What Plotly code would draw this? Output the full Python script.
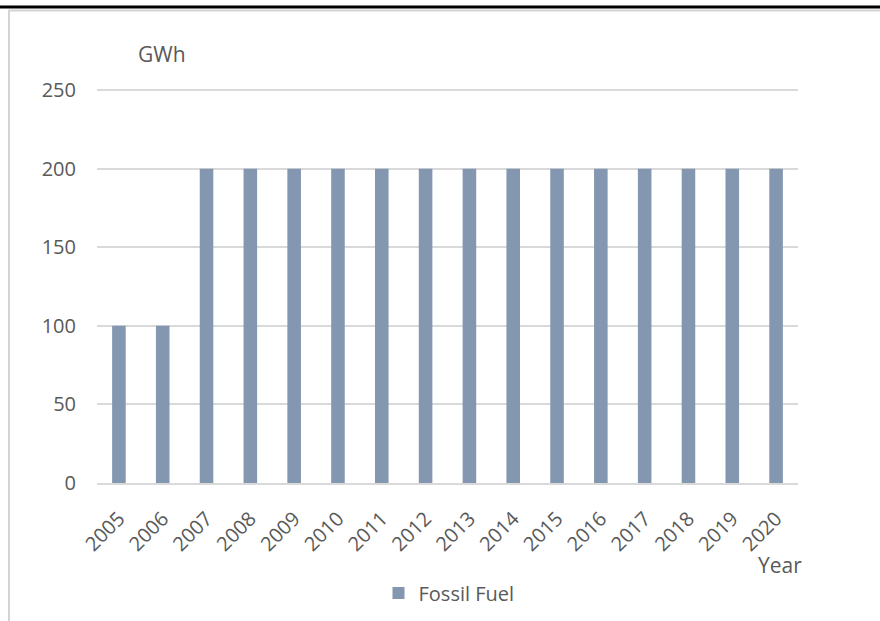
import plotly.graph_objects as go

# Annual electricity from fossil fuel (GWh)
years = ["2005", "2006", "2007", "2008", "2009", "2010", "2011", "2012",
         "2013", "2014", "2015", "2016", "2017", "2018", "2019", "2020"]
fossil_fuel = [100, 100, 200, 200, 200, 200, 200, 200,
               200, 200, 200, 200, 200, 200, 200, 200]
y_ticks = [0, 50, 100, 150, 200, 250]

W, H = 880, 621
L, R, T, B = 97, 82, 87, 138
pw, ph = W - L - R, H - T - B


def px(x):
    return (x - L) / pw


def py(y):
    return 1 - (y - T) / ph


FONT = "Open Sans"
TEXT = "#595959"
GRID = "#d9d9d9"

fig = go.Figure()
fig.add_trace(go.Bar(
    x=years, y=fossil_fuel, name="Fossil Fuel",
    marker=dict(color="#8497b0", line=dict(width=0)),
))

fig.update_layout(
    width=W, height=H,
    margin=dict(l=L, r=R, t=T, b=B, autoexpand=False),
    paper_bgcolor="white", plot_bgcolor="white",
    bargap=0.69,
    font=dict(family=FONT, color=TEXT, size=20),
    showlegend=True,
    legend=dict(orientation="h", x=px(449), y=py(593),
                xanchor="center", yanchor="middle",
                font=dict(family=FONT, size=20, color=TEXT)),
    xaxis=dict(
        type="category", tickangle=-45, showgrid=False, automargin=False,
        showline=True, linecolor=GRID, linewidth=2,
        ticks="", tickfont=dict(size=20, color=TEXT),
        ticklabelstandoff=14,
    ),
    yaxis=dict(
        range=[0, 252], tickvals=y_ticks, showgrid=True, automargin=False,
        gridcolor=GRID, gridwidth=2, zeroline=False, showline=False,
        ticks="", tickfont=dict(size=20, color=TEXT),
        ticklabelstandoff=20,
    ),
    annotations=[
        dict(text="GWh", xref="paper", yref="paper", x=px(162), y=py(54),
             showarrow=False, xanchor="center", yanchor="middle",
             font=dict(size=21, color=TEXT, family=FONT)),
        dict(text="Year", xref="paper", yref="paper", x=px(780), y=py(565),
             showarrow=False, xanchor="center", yanchor="middle",
             font=dict(size=21, color=TEXT, family=FONT)),
    ],
    shapes=[
        # light chart frame
        dict(type="rect", xref="paper", yref="paper",
             x0=px(9), x1=px(900), y0=py(700), y1=py(10.5),
             line=dict(color="#d4d4d4", width=2), fillcolor="rgba(0,0,0,0)",
             layer="below"),
        # black rule across the top
        dict(type="line", xref="paper", yref="paper",
             x0=px(-5), x1=px(900), y0=py(7), y1=py(7),
             line=dict(color="black", width=3)),
    ],
)

fig.write_html("out.html")
